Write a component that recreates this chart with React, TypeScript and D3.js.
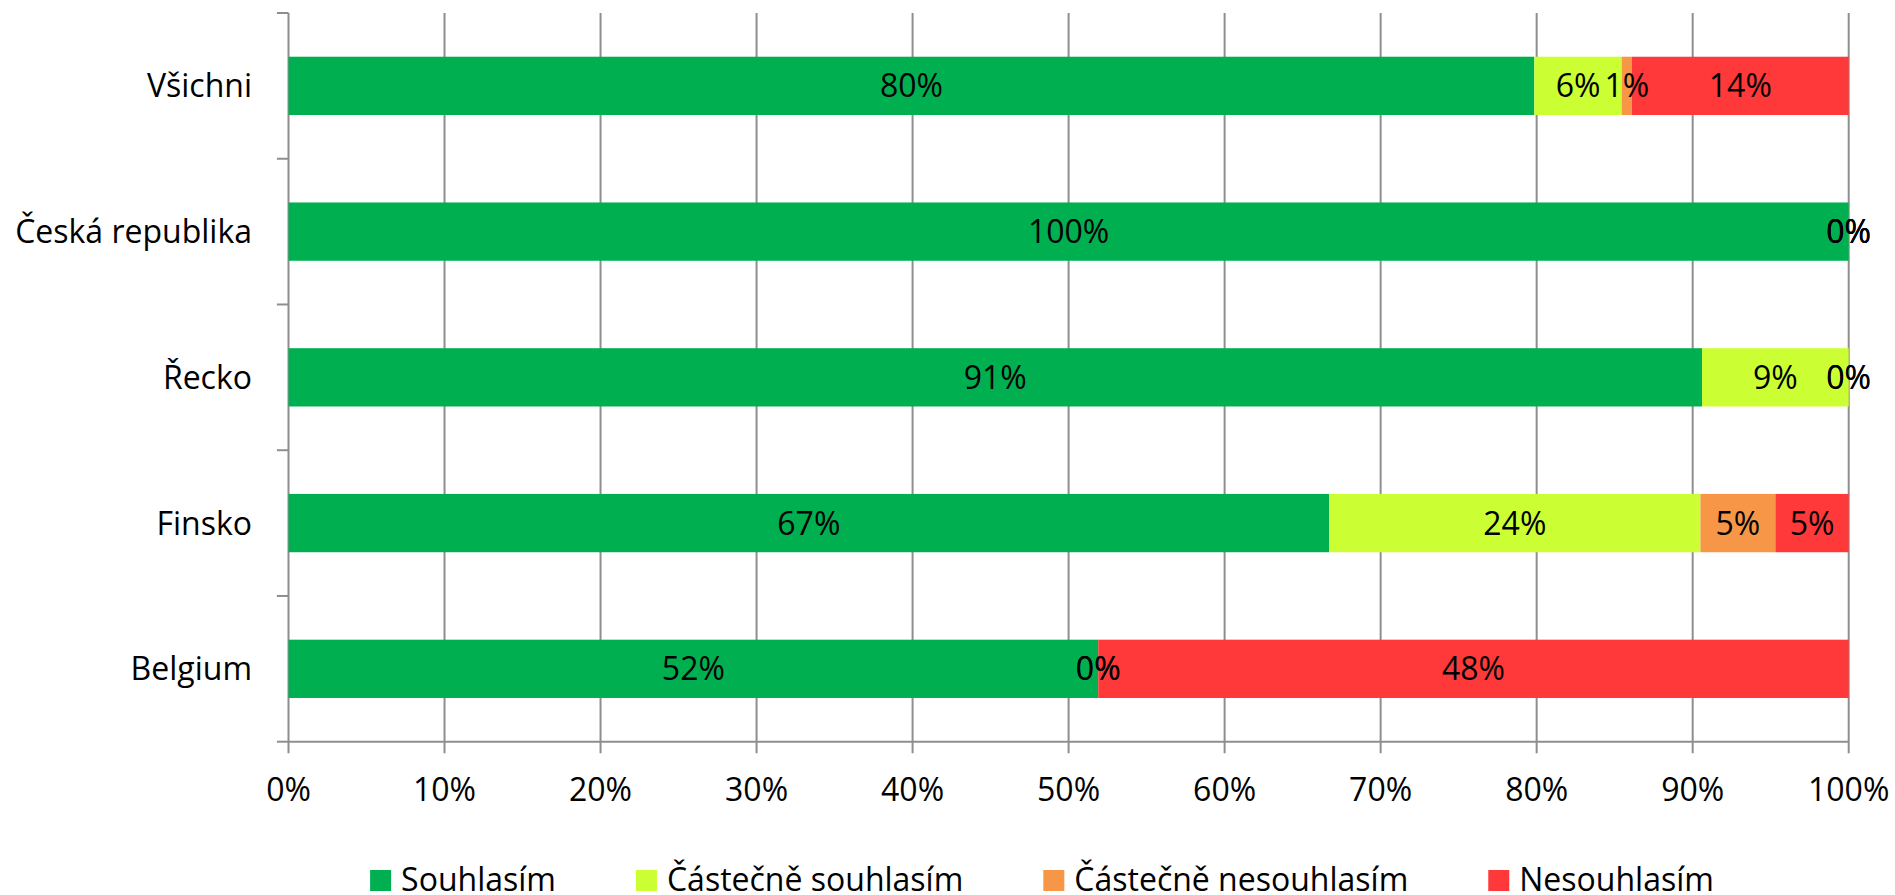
import React from "react";
import * as d3 from "d3";

const categories = ["Všichni", "Česká republika", "Řecko", "Finsko", "Belgium"];
const seriesNames = ["Souhlasím", "Částečně souhlasím", "Částečně nesouhlasím", "Nesouhlasím"];
const seriesColors = ["#00B050", "#CCFF33", "#F79646", "#FF3939"];
const souhlasim = [79.85, 100, 90.6, 66.7, 51.9];
const castecneSouhlasim = [5.6, 0, 9.4, 23.8, 0];
const castecneNesouhlasim = [0.66, 0, 0, 4.8, 0];
const nesouhlasim = [13.89, 0, 0, 4.7, 48.1];
const xTicks = [0, 10, 20, 30, 40, 50, 60, 70, 80, 90, 100];

const W = 1895;
const H = 895;
const FONT = "'Open Sans', 'Noto Sans', sans-serif";
const FS = 32;
const GRID = "#8E8E8E";

function measure(text: string): number {
  const c = document.createElement("canvas");
  const ctx = c.getContext("2d");
  if (!ctx) return text.length * FS * 0.55;
  ctx.font = `${FS}px 'Open Sans'`;
  return ctx.measureText(text).width;
}

export default function App() {
  const left = 288.5;
  const right = 1848.7;
  const top = 13;
  const bottom = 741.7;

  const x = d3.scaleLinear().domain([0, 100]).range([left, right]);
  const y = d3.scaleBand<string>().domain(categories).range([top, bottom]).paddingInner(0.6).paddingOuter(0.3);
  const bandStep = y.step();

  const rows = categories.map((c, i) => ({
    cat: c,
    s0: souhlasim[i],
    s1: castecneSouhlasim[i],
    s2: castecneNesouhlasim[i],
    s3: nesouhlasim[i],
  }));
  const keys = ["s0", "s1", "s2", "s3"];
  const stacked = d3.stack<any>().keys(keys)(rows);

  const capHalf = FS * 0.714 / 2;

  // legend layout
  const widths = seriesNames.map(measure);
  const sw = 21;
  const swGap = 10;
  const itemGap = 80;
  const total = widths.reduce((a, w) => a + sw + swGap + w, 0) + itemGap * (seriesNames.length - 1);
  const legendCenter = 1042;
  let lx = legendCenter - total / 2;
  const legendItems = seriesNames.map((n, i) => {
    const item = { name: n, x: lx, color: seriesColors[i] };
    lx += sw + swGap + widths[i] + itemGap;
    return item;
  });

  const boundaries = d3.range(categories.length + 1).map((i) => top + i * bandStep);

  return (
    <svg width={W} height={H} style={{ position: "absolute", left: 0, top: 0, background: "#fff" }} fontFamily={FONT}>
      {/* vertical gridlines */}
      {xTicks.map((t) => (
        <line key={"g" + t} x1={x(t)} x2={x(t)} y1={top} y2={bottom + 11.6} stroke={GRID} strokeWidth={2} />
      ))}
      {/* x axis line */}
      <line x1={left} x2={right} y1={bottom} y2={bottom} stroke={GRID} strokeWidth={2} />
      {/* y ticks */}
      {boundaries.map((b, i) => (
        <line key={"yt" + i} x1={left - 11.6} x2={left} y1={b} y2={b} stroke={GRID} strokeWidth={2} />
      ))}
      {/* bars */}
      {stacked.map((layer, si) => (
        <g key={"s" + si} fill={seriesColors[si]}>
          {layer.map((d: any, ci: number) => (
            <rect
              key={ci}
              x={x(d[0])}
              y={y(categories[ci])}
              width={Math.max(0, x(d[1]) - x(d[0]))}
              height={y.bandwidth()}
            />
          ))}
        </g>
      ))}
      {/* data labels */}
      {stacked.map((layer, si) => (
        <g key={"l" + si} fontSize={FS} textAnchor="middle" fill="#000">
          {layer.map((d: any, ci: number) => (
            <text key={ci} x={x((d[0] + d[1]) / 2)} y={(y(categories[ci]) as number) + y.bandwidth() / 2 + capHalf}>
              {Math.round(d[1] - d[0]) + "%"}
            </text>
          ))}
        </g>
      ))}
      {/* category labels */}
      {categories.map((c) => (
        <text key={c} x={252} y={(y(c) as number) + y.bandwidth() / 2 + capHalf} fontSize={FS} textAnchor="end" fill="#000">
          {c}
        </text>
      ))}
      {/* x tick labels */}
      {xTicks.map((t) => (
        <text key={"xl" + t} x={x(t)} y={bottom + 59} fontSize={FS} textAnchor="middle" fill="#000">
          {t + "%"}
        </text>
      ))}
      {/* legend */}
      {legendItems.map((it) => (
        <g key={it.name}>
          <rect x={it.x} y={870} width={sw} height={sw} fill={it.color} />
          <text x={it.x + sw + swGap} y={891} fontSize={FS} fill="#000">
            {it.name}
          </text>
        </g>
      ))}
    </svg>
  );
}
